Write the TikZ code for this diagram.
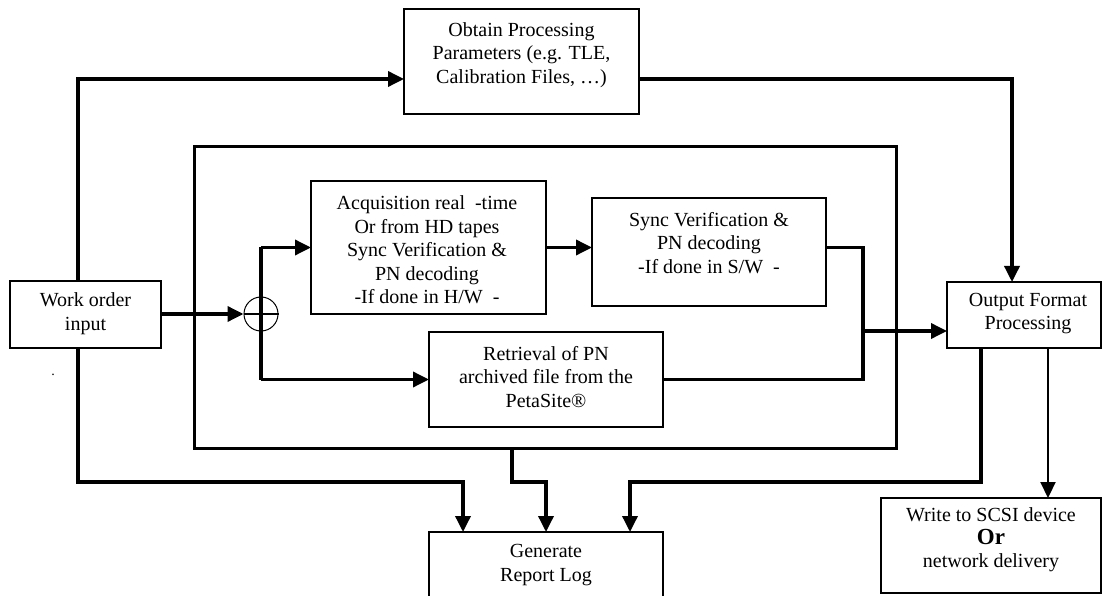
\documentclass[tikz,border=0pt]{standalone}
\usepackage{fontspec}
\setmainfont{Liberation Serif}
\usetikzlibrary{arrows.meta,calc}
\begin{document}
\begin{tikzpicture}[x=1pt,y=-1pt,
  box/.style={draw,line width=1.2pt,rectangle,inner sep=0pt,outer sep=0pt},
  txt/.style={align=center,inner sep=0pt,font=\fontsize{20}{23.5}\selectfont},
  line/.style={line width=3.5pt},
  conn/.style={line width=3.5pt,-{Triangle[length=16pt,width=15pt]}},
  conntwo/.style={line width=2.2pt,-{Triangle[length=16pt,width=15pt]}}]
\clip (0,0) rectangle (1104,596);
\fill[white] (0,0) rectangle (1104,596);
% frame
\node[box,line width=3pt,minimum width=702pt,minimum height=301pt] (frame) at (545,297.5) {};
% boxes
\node[box,minimum width=235pt,minimum height=105pt] (obtain) at (521.5,61.5) {};
\node[box,minimum width=151pt,minimum height=67pt] (wo) at (85.5,314.5) {};
\node[box,minimum width=235pt,minimum height=133pt] (acq) at (428.5,247.5) {};
\node[box,minimum width=234pt,minimum height=108pt] (sync) at (709,252) {};
\node[box,minimum width=234pt,minimum height=95pt] (retr) at (546,379.5) {};
\node[box,minimum width=154pt,minimum height=66pt] (out) at (1024,315) {};
\node[box,minimum width=234pt,minimum height=68pt] (log) at (546,566) {};
\node[box,minimum width=220pt,minimum height=95pt] (scsi) at (991,545.5) {};
\node[draw,circle,line width=1pt,minimum size=34pt,inner sep=0pt] (sum) at (261,314) {};
% texts
\node[txt] (obtaint) at (521.5,55) {Obtain Processing\\Parameters (e.g. TLE,\\Calibration Files, \dots)};
\node[txt] (wot) at (85.5,313.5) {Work order\\input};
\node[txt] (acqt) at (427,250) {Acquisition real\ \ -time\\Or from HD tapes\\Sync Verification \&\\PN decoding\\-If done in H/W\ \ -};
\node[txt] (synct) at (709,243) {Sync Verification \&\\PN decoding\\-If done in S/W\ \ -};
\node[txt] (retrt) at (546,377) {Retrieval of PN\\archived file from the\\PetaSite®};
\node[txt] (outt) at (1028,313.5) {Output Format\\Processing};
\node[txt] (logt) at (546,565) {Generate\\Report Log};
\node[txt,font=\fontsize{20}{23}\selectfont] (scsit) at (991,540) {Write to SCSI device\\{\fontsize{23}{23}\selectfont\bfseries Or}\\network delivery};
\node[inner sep=0pt,font=\fontsize{14}{14}\selectfont] (dot) at (53,375) {.};
% named helper coordinates
\coordinate (bus) at (0,482);
\coordinate (jx) at ([xshift=37pt]sync.east);
% connectors
\draw[conn] ([xshift=-7.5pt]wo.north) |- ([yshift=-17.5pt]obtain.west);
\draw[conn] ([xshift=-7.5pt]wo.south) |- ([xshift=-83pt]log.north |- bus) -- ([xshift=-83pt]log.north);
\draw[conn] (wo.east |- sum) -- (sum.west);
\draw[line width=2pt] (sum.west) -- (sum.east);
\draw[line] (sum.center |- acq.west) -- (sum.center |- retr.west);
\draw[conn] (sum.center |- acq.west) -- (acq.west);
\draw[conn] (sum.center |- retr.west) -- (retr.west);
\draw[conn] (acq.east) -- (acq.east -| sync.west);
\draw[line] (acq.east -| sync.east) -| (jx |- retr.east) -- (retr.east);
\draw[conn] (jx |- out.west) ++(0,16) -- ([yshift=-16pt]out.west);
\draw[conn] ([yshift=-17.5pt]obtain.east) -| ([xshift=-12pt]out.north);
\draw[conn] ([xshift=-43pt]out.south) |- ([xshift=84pt]log.north |- bus) -- ([xshift=84pt]log.north);
\draw[conntwo] ([xshift=24pt]out.south) -- ([xshift=24pt]out.south |- scsi.north);
\draw[conn] ([xshift=-33pt]frame.south) |- (log.north |- bus) -- (log.north);
\end{tikzpicture}
\end{document}
